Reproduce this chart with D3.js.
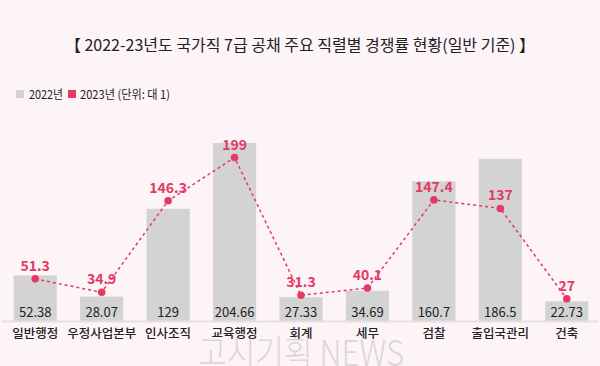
<!DOCTYPE html>
<html>
  <head>
    <meta charset="utf-8">
    <script src="https://cdn.jsdelivr.net/npm/d3@7"></script>
    <style>
      body { margin: 0; background: #fdf4f7; }
      text { font-family: "Noto Sans CJK KR", "Noto Sans", sans-serif; }
    </style>
  </head>
  <body>
  <script>
    // data
    var categories = ["일반행정", "우정사업본부", "인사조직", "교육행정", "회계", "세무", "검찰", "출입국관리", "건축"];
    var values2022 = [52.38, 28.07, 129, 204.66, 27.33, 34.69, 160.7, 186.5, 22.73];
    var labels2022 = ["52.38", "28.07", "129", "204.66", "27.33", "34.69", "160.7", "186.5", "22.73"];
    var values2023 = [51.3, 34.9, 146.3, 199, 31.3, 40.1, 147.4, 137, 27];
    var labels2023 = ["51.3", "34.9", "146.3", "199", "31.3", "40.1", "147.4", "137", "27"];

    var W = 600, H = 366;
    var BASE = 321;
    var RED = "#e23a63", GREY = "#d3d3d3";

    var svg = d3.select("body").append("svg")
        .attr("width", W)
        .attr("height", H);

    svg.append("rect").attr("width", W).attr("height", H).attr("fill", "#fdf4f7");

    var x = d3.scaleBand().domain(categories).range([2, 600]).paddingInner(0.35).paddingOuter(0.175);
    var yBar = d3.scaleLinear().domain([0, 204.66]).range([BASE, 143]);
    var yLine = d3.scaleLinear().domain([0, 199]).range([BASE, 157.5]);

    function cx(i){ return x(categories[i]) + x.bandwidth() / 2; }

    // title
    svg.append("text")
        .attr("x", 300).attr("y", 51)
        .attr("text-anchor", "middle")
        .attr("font-size", 16)
        .attr("fill", "#222")
        .text("【 2022-23년도 국가직 7급 공채 주요 직렬별 경쟁률 현황(일반 기준) 】");

    // legend
    svg.append("rect").attr("x", 16).attr("y", 90).attr("width", 8).attr("height", 8).attr("fill", GREY);
    svg.append("text").attr("x", 29).attr("y", 98.5).attr("font-size", 12).attr("fill", "#222")
        .attr("textLength", 34).attr("lengthAdjust", "spacingAndGlyphs").text("2022년");
    svg.append("rect").attr("x", 68).attr("y", 90).attr("width", 8).attr("height", 8).attr("fill", RED);
    svg.append("text").attr("x", 80).attr("y", 98.5).attr("font-size", 12).attr("fill", "#222")
        .attr("textLength", 90).attr("lengthAdjust", "spacingAndGlyphs").text("2023년 (단위: 대 1)");

    // watermark
    svg.append("text")
        .attr("x", 198).attr("y", 366)
        .attr("font-size", 36)
        .attr("font-weight", 300)
        .attr("fill", "#dcd6d9")
        .attr("textLength", 206).attr("lengthAdjust", "spacingAndGlyphs")
        .text("고시기획 NEWS");

    // bars
    svg.selectAll(".bar").data(values2022).enter().append("rect")
        .attr("class", "bar")
        .attr("x", function(d, i){ return x(categories[i]); })
        .attr("width", x.bandwidth())
        .attr("y", function(d){ return yBar(d); })
        .attr("height", function(d){ return BASE - yBar(d); })
        .attr("fill", GREY);

    // axis line
    svg.append("line").attr("x1", 2).attr("x2", 598).attr("y1", BASE + 0.5).attr("y2", BASE + 0.5)
        .attr("stroke", "#e6e0e3").attr("stroke-width", 2);

    svg.selectAll(".blab").data(labels2022).enter().append("text")
        .attr("x", function(d, i){ return cx(i); })
        .attr("y", 317)
        .attr("text-anchor", "middle")
        .attr("font-size", 13)
        .attr("fill", "#222")
        .text(function(d){ return d; });

    // category labels
    svg.selectAll(".cat").data(categories).enter().append("text")
        .attr("x", function(d, i){ return cx(i); })
        .attr("y", 338)
        .attr("text-anchor", "middle")
        .attr("font-size", 12.5)
        .attr("font-weight", 500)
        .attr("fill", "#222")
        .text(function(d){ return d; });

    // line
    var line = d3.line()
        .x(function(d, i){ return cx(i); })
        .y(function(d){ return yLine(d); });

    svg.append("path").datum(values2023)
        .attr("d", line)
        .attr("fill", "none")
        .attr("stroke", RED)
        .attr("stroke-width", 1.5)
        .attr("stroke-dasharray", "3,3");

    svg.selectAll(".dot").data(values2023).enter().append("circle")
        .attr("cx", function(d, i){ return cx(i); })
        .attr("cy", function(d){ return yLine(d); })
        .attr("r", 3.8)
        .attr("fill", RED);

    svg.selectAll(".llab").data(values2023).enter().append("text")
        .attr("x", function(d, i){ return cx(i); })
        .attr("y", function(d){ return yLine(d) - 8; })
        .attr("text-anchor", "middle")
        .attr("font-size", 14)
        .attr("font-weight", "bold")
        .attr("fill", RED)
        .text(function(d, i){ return labels2023[i]; });
  </script>
  </body>
</html>
